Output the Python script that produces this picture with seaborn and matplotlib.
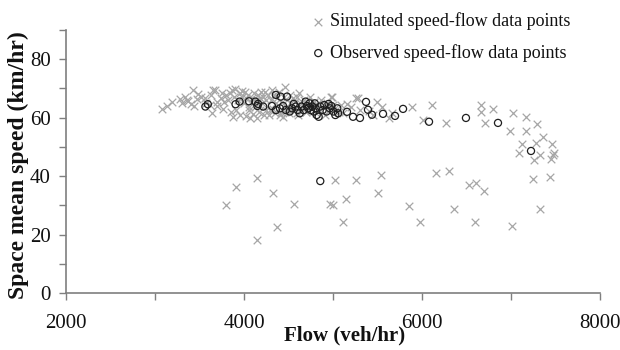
import matplotlib
matplotlib.use("Agg")
import matplotlib.pyplot as plt
import seaborn as sns

# simulated speed-flow points (veh/hr, km/hr)
sim_flow = [3081, 3135, 3188, 3282, 3335, 3371, 3402, 3424, 3469, 3513, 3558, 3624, 3647, 3638, 3669,
            3691, 3736, 3758, 3780, 3802, 3825, 3847, 3869, 3878, 3891, 3914, 3936, 3958, 3980, 4003,
            4012, 4025, 4047, 4056, 4069, 4083, 4092, 4114, 4127, 4136, 4158, 4172, 4181, 4190, 4203,
            4216, 4225, 4234, 4247, 4270, 4292, 4305, 4314, 4336, 4350, 4359, 4372, 4394, 4412, 4425,
            4439, 4448, 4457, 4470, 4483, 4501, 4514, 4528, 4546, 4559, 4572, 4590, 4603, 4617, 4626,
            4648, 4670, 4692, 4715, 4737, 4759, 4781, 4804, 4826, 4848, 4870, 4893, 4915, 4937, 4959,
            4982, 5004, 5026, 5062, 5093, 5115, 5160, 5204, 5262, 5302, 5404, 5449, 5494, 5551, 5627,
            3700, 3760, 3850, 3950, 4020, 4100, 4150, 4060, 4180, 4250, 4330, 4400, 3570, 3620, 3440,
            3480, 3360, 3300, 3900, 3980, 4280, 4460, 4520, 4600, 4700, 4989, 5281, 5663,
            5888, 6011, 6112, 6270, 6663, 6663, 6708, 6798, 6989, 7022, 7168, 7168, 7292, 7124, 7090,
            7281, 7360, 7461, 7258, 7326, 7449, 7472, 7483,
            3802, 3914, 4149, 4145, 4323, 4368, 4559, 4964, 5004, 5017, 5151, 5115, 5262, 5502, 5538,
            5850, 5983, 6152, 6299, 6361, 6526, 6606, 6695, 6597, 7015, 7251, 7331, 7443]
sim_speed = [62.9, 64.0, 65.3, 66.3, 67.0, 65.6, 64.7, 69.3, 66.3, 67.2, 66.6, 67.8, 69.5, 61.5, 69.5,
             65.5, 66.6, 68.3, 65.5, 67.8, 66.1, 68.3, 69.5, 60.3, 67.0, 62.6, 66.1, 68.3, 67.2, 64.9,
             68.9, 66.6, 67.8, 62.6, 59.8, 65.5, 66.6, 68.3, 63.8, 66.1, 67.8, 62.1, 66.6, 68.9, 64.9,
             67.2, 60.9, 68.9, 66.1, 67.8, 62.6, 66.1, 69.5, 67.8, 61.5, 64.9, 66.6, 68.9, 62.1, 65.5,
             60.3, 67.2, 70.4, 63.8, 66.1, 61.5, 67.8, 64.9, 66.6, 62.6, 65.5, 67.2, 60.9, 68.6, 64.9,
             63.8, 66.1, 62.1, 64.3, 67.2, 63.2, 65.5, 61.5, 64.3, 62.6, 66.1, 63.8, 60.9, 64.9, 62.6,
             67.2, 64.3, 63.2, 62.1, 64.3, 61.5, 64.7, 63.8, 66.6, 62.6, 62.3, 60.9, 65.5, 63.5, 59.8,
             64.0, 63.0, 62.0, 61.0, 60.5, 61.2, 60.0, 63.5, 64.0, 62.5, 63.0, 61.0, 65.0, 64.5, 64.0,
             68.0, 66.0, 65.0, 69.7, 69.0, 61.0, 61.8, 63.0, 61.5, 62.0, 67.1, 66.8, 61.6,
             63.7, 59.2, 64.4, 58.2, 64.4, 62.0, 58.2, 63.0, 55.5, 61.6, 60.3, 55.5, 57.9, 51.0, 48.0,
             51.4, 53.4, 51.0, 45.5, 47.3, 45.9, 47.3, 48.0,
             30.1, 36.3, 39.5, 18.3, 34.1, 22.6, 30.4, 30.4, 30.1, 38.6, 32.3, 24.3, 38.6, 34.1, 40.5,
             29.7, 24.3, 40.9, 41.8, 28.6, 36.8, 37.5, 35.0, 24.3, 23.0, 39.0, 28.8, 39.8]

# observed speed-flow points
obs_flow = [3566, 3593, 3905, 3950, 4056, 4127, 4158, 4216, 4150,
            4314, 4358, 4412, 4483, 4359, 4403, 4439, 4470, 4514, 4541, 4559, 4581, 4603, 4626, 4648,
            4670, 4692, 4706, 4724, 4737, 4750, 4768, 4781, 4795, 4804, 4817, 4839, 4857, 4884, 4901,
            4928, 4950, 4964, 4982, 5004, 5026, 5048, 5057, 4857,
            5157, 5225, 5303, 5371, 5393, 5438, 5562, 5697, 5787, 6079, 6494, 6854, 7225]
obs_speed = [63.8, 64.6, 64.6, 65.5, 65.6, 65.5, 64.7, 63.8, 64.0,
             64.0, 67.8, 67.2, 67.2, 62.6, 63.2, 64.0, 62.6, 62.1, 63.2, 64.7, 63.8, 62.6, 61.5, 63.8,
             62.6, 65.5, 64.0, 63.2, 64.9, 62.6, 63.8, 62.1, 64.9, 63.2, 60.9, 60.3, 63.8, 62.6, 64.3,
             62.1, 64.7, 63.2, 64.0, 62.1, 60.9, 63.2, 61.5, 38.3,
             62.0, 60.3, 59.9, 65.4, 62.7, 61.0, 61.3, 60.6, 63.0, 58.6, 59.9, 58.2, 48.6]

x_ticks = [2000, 3000, 4000, 5000, 6000, 7000, 8000]
x_tick_labels = ["2000", "", "4000", "", "6000", "", "8000"]
y_ticks = [0, 10, 20, 30, 40, 50, 60, 70, 80, 90]
y_tick_labels = ["0", "", "20", "", "40", "", "60", "", "80", ""]

sns.set_style("white")
plt.rcParams["font.family"] = ["Liberation Serif", "DejaVu Serif"]

fig = plt.figure(figsize=(6.2, 3.5), dpi=100)
ax = fig.add_axes([0.1065, 0.1629, 0.8612, 0.7514])

sns.scatterplot(x=sim_flow, y=sim_speed, marker="x", color="#a6a6a6", s=30,
                linewidth=0.9, ax=ax, label="Simulated speed-flow data points", zorder=2)
sns.scatterplot(x=obs_flow, y=obs_speed, marker="o", facecolor="none", edgecolor="#1e1e1e",
                s=26, linewidth=0.9, ax=ax, label="Observed speed-flow data points", zorder=3)

ax.set_xlim(2000, 8000)
ax.set_ylim(0, 90)
ax.set_xticks(x_ticks)
ax.set_xticklabels(x_tick_labels)
ax.set_yticks(y_ticks)
ax.set_yticklabels(y_tick_labels)
ax.tick_params(axis="both", direction="out", length=5, width=1, color="#7f7f7f",
               labelsize=15, labelcolor="#111111", bottom=True, left=True)
ax.tick_params(axis="x", pad=10)
ax.tick_params(axis="y", pad=6)

for side in ["top", "right"]:
    ax.spines[side].set_visible(False)
for side in ["left", "bottom"]:
    ax.spines[side].set_color("#7f7f7f")
    ax.spines[side].set_linewidth(1.2)

ax.set_xlabel("Flow (veh/hr)", fontsize=15, fontweight="bold", color="#111111")
ax.xaxis.set_label_coords(0.522, -0.125)
ax.set_ylabel("Space mean speed (km/hr)", fontsize=17, fontweight="bold", color="#111111")
ax.yaxis.set_label_coords(-0.07, 0.487)

ax.legend(loc="upper left", bbox_to_anchor=(0.49, 0.99), bbox_transform=fig.transFigure,
          frameon=False, fontsize=13, borderpad=0, handlelength=0.6, handletextpad=0.35,
          labelspacing=0.75, markerscale=1.0, labelcolor="#111111")

fig.savefig("out.png", dpi=100)
